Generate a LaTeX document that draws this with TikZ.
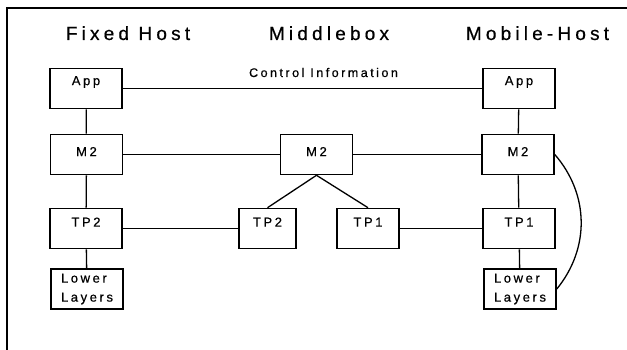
\documentclass[tikz,border=0pt]{standalone}
\usepackage{fontspec}
\setmainfont{Liberation Sans}[LetterSpace=20, FakeBold=0.6]
\newfontfamily\headfont{Liberation Sans}[LetterSpace=22, FakeBold=0.6]

\begin{document}
\begin{tikzpicture}[x=1pt, y=-1pt,
  layer/.style={draw, line width=1.6pt, minimum width=72pt, minimum height=40pt,
    inner sep=0pt, font=\fontsize{13}{19}\selectfont,
    text height=9.3pt, text depth=#1},
  layer/.default=13pt,
  lower/.style={draw, line width=1.6pt, minimum width=72pt, minimum height=40pt,
    inner sep=0pt, align=left, font=\fontsize{13}{19}\selectfont},
  title/.style={anchor=base, font=\headfont\fontsize{19}{24}\selectfont},
  link/.style={line width=1.3pt}]

\useasboundingbox (0,0) rectangle (627,350);

% frame
\draw[line width=1.4pt] (7,350) -- (7,8) -- (627,8);

\node[title] (fh) at (128,40) {Fixed Host};
\node[title] (mb) at (329,40) {Middlebox};
\node[title] (mh) at (537.5,40) {Mobile-Host};

% fixed host
\node[layer=16pt] (fapp) at (86,88.5) {App};
\node[layer=6pt] (fm2) at (86.5,154.5) {M2};
\node[layer] (ftp2) at (86,228.5) {TP2};
\node[lower] (flow) at (87,289) {Lower\\Layers};

% middlebox
\node[layer=6pt] (mm2) at (316.5,154.5) {M2};
\node[layer, minimum width=57pt] (mtp2) at (267.5,228.5) {TP2};
\node[layer, minimum width=62pt] (mtp1) at (368,228.5) {TP1};

% mobile host
\node[layer=16pt] (happ) at (519,88.5) {App};
\node[layer=6pt] (hm2) at (518,154.5) {M2};
\node[layer] (htp1) at (519,228.5) {TP1};
\node[lower] (hlow) at (520,289) {Lower\\Layers};

\node[anchor=base, font=\fontsize{12.5}{15}\selectfont] (ctl) at (323.5,77) {Control Information};

\draw[link] (fapp) -- (happ);
\draw[link] (fm2) -- (mm2);
\draw[link] (mm2) -- (hm2);
\draw[link] (ftp2) -- (mtp2);
\draw[link] (mtp1) -- (htp1);

\draw[link] (fapp) -- (fm2);
\draw[link] (fm2) -- (ftp2);
\draw[link] (ftp2) -- (flow);

\draw[link] (mm2.south) -- (mtp2.north);
\draw[link] (mm2.south) -- (mtp1.north);

\draw[link] (happ) -- (hm2);
\draw[link] (hm2) -- (htp1);
\draw[link] (htp1) -- (hlow);
\draw[link] (hm2.east) to[bend left=40] (hlow.east);

\end{tikzpicture}
\end{document}
